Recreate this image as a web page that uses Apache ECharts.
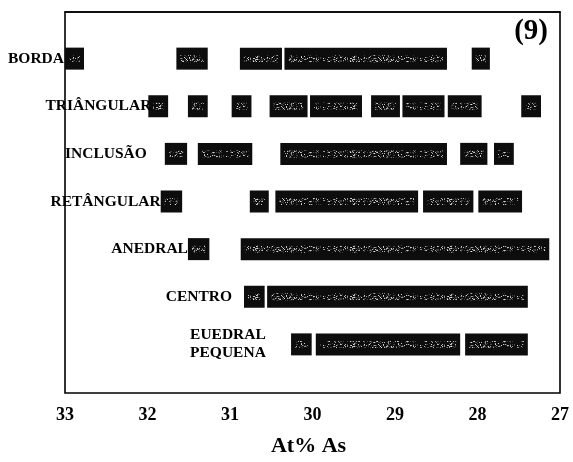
<!DOCTYPE html>
<html>
<head>
<meta charset="utf-8">
<script src="https://cdn.jsdelivr.net/npm/echarts@6/dist/echarts.min.js"></script>
<style>html,body{margin:0;padding:0;background:#fff}#c{width:573px;height:462px}</style>
</head>
<body>
<div id="c"></div>
<script>
// ---- data ----
const rowNames = ['BORDA', 'TRIÂNGULAR', 'INCLUSÃO', 'RETÂNGULAR', 'ANEDRAL', 'CENTRO', 'EUEDRAL\nPEQUENA'];
const borda = [[33.00, 32.77], [31.65, 31.27], [30.88, 30.37], [30.34, 28.37], [28.07, 27.85]];
const triangular = [[31.99, 31.75], [31.51, 31.27], [30.98, 30.74], [30.52, 30.06], [30.03, 29.40], [29.29, 28.94], [28.91, 28.40], [28.36, 27.95], [27.47, 27.23]];
const inclusao = [[31.79, 31.52], [31.39, 30.73], [30.39, 28.37], [28.21, 27.88], [27.80, 27.56]];
const retangular = [[31.84, 31.58], [30.76, 30.53], [30.45, 28.72], [28.66, 28.05], [27.99, 27.46]];
const anedral = [[31.51, 31.25], [30.87, 27.13]];
const centro = [[30.83, 30.58], [30.55, 27.39]];
const euedralPequena = [[30.26, 30.01], [29.96, 28.21], [28.15, 27.39]];
const xTicks = [33, 32, 31, 30, 29, 28, 27];
const rowSegments = [borda, triangular, inclusao, retangular, anedral, centro, euedralPequena];

// ---- style (label placement relative to first bar, px) ----
const labelStyle = [
  {gap: 1, align: 'right'},
  {gap: -3, align: 'right'},
  {gap: 18, align: 'right'},
  {gap: 0, align: 'right'},
  {gap: 0, align: 'right'},
  {gap: 12, align: 'right'},
  {gap: 101, align: 'left'}
];

// speckle texture for bars (deterministic hash, style only)
function makeTexture() {
  const cv = document.createElement('canvas');
  cv.width = 97; cv.height = 7;
  const ctx = cv.getContext('2d');
  for (let y = 0; y < cv.height; y++) {
    for (let x = 0; x < cv.width; x++) {
      const h = Math.abs(Math.sin(x * 12.9898 + y * 78.233) * 43758.5453) % 1;
      const edge = (y === 0 || y === cv.height - 1) ? 0.4 : 1;
      if (h < 0.14 * edge) {
        const g = 150 + Math.floor(((h * 1000) % 1) * 105);
        ctx.fillStyle = 'rgba(' + g + ',' + g + ',' + g + ',0.9)';
        ctx.fillRect(x, y, 1, 1);
      } else if (h < 0.30 * edge) {
        ctx.fillStyle = 'rgba(80,80,80,0.8)';
        ctx.fillRect(x, y, 1, 1);
      }
    }
  }
  return cv;
}
const tex = makeTexture();

const segData = [];
rowSegments.forEach((segs, r) => {
  segs.forEach((s, i) => segData.push([r, s[0], s[1], i === 0 ? 1 : 0]));
});

const serif = '"Liberation Serif", "DejaVu Serif", serif';

const chart = echarts.init(document.getElementById('c'));
chart.setOption({
  animation: false,
  backgroundColor: '#fff',
  title: {
    text: '(9)', right: 20, top: 12,
    textStyle: {fontFamily: serif, fontSize: 29, fontWeight: 'bold', color: '#000'}
  },
  grid: {left: 65, right: 13, top: 12, bottom: 64, show: true, borderColor: '#000', borderWidth: 1.6, backgroundColor: '#fff'},
  xAxis: {
    type: 'value', min: 27, max: 33, interval: 1, inverse: true,
    axisLine: {show: true, lineStyle: {color: '#000', width: 1.6}},
    axisTick: {show: false},
    splitLine: {show: false},
    axisLabel: {margin: 13, fontFamily: serif, fontSize: 18, fontWeight: 'bold', color: '#000',
      formatter: function (v) { return xTicks.indexOf(v) >= 0 ? String(v) : ''; }},
    name: 'At% As', nameLocation: 'middle', nameGap: 42,
    nameTextStyle: {fontFamily: serif, fontSize: 22, fontWeight: 'bold', color: '#000', padding: [0, 8, 0, 0]}
  },
  yAxis: {
    type: 'value', min: 0, max: 8, inverse: true, show: false
  },
  series: [{
    type: 'custom',
    data: segData,
    encode: {x: [1, 2], y: 0},
    renderItem: function (params, api) {
      const r = api.value(0);
      const p0 = api.coord([api.value(1), r + 1]);
      const p1 = api.coord([api.value(2), r + 1]);
      const left = Math.min(p0[0], p1[0]);
      const w = Math.abs(p1[0] - p0[0]);
      const h = 22;
      const cy = p0[1] - 1;
      const children = [
        {type: 'rect', shape: {x: left, y: cy - h / 2, width: w, height: h}, style: {fill: '#0d0d0d'}},
        {type: 'rect', shape: {x: left + 4, y: cy - 3.5, width: Math.max(0, w - 8), height: 7},
          style: {fill: {image: tex, repeat: 'repeat'}}}
      ];
      if (api.value(3) === 1) {
        const ls = labelStyle[r];
        children.push({
          type: 'text',
          x: left - ls.gap,
          y: cy,
          style: {
            text: rowNames[r], align: ls.align, verticalAlign: 'middle',
            fontFamily: serif, fontSize: 15.5, fontWeight: 'bold', fill: '#000', lineHeight: 18
          }
        });
      }
      return {type: 'group', children: children};
    }
  }]
});
</script>
</body>
</html>
